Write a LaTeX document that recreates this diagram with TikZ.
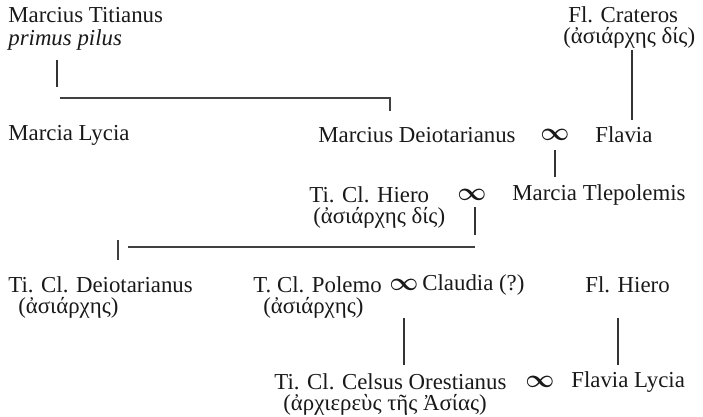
\documentclass[tikz,border=0pt]{standalone}
\usepackage{fontspec}
\setmainfont{Liberation Serif}
\usepackage{xcolor}
\usetikzlibrary{
  positioning,
  calc
}

\tikzset{
  person/.style={anchor=west, inner sep=0pt, text=black!90,
    font=\fontsize{13}{15}\selectfont},
  marriage/.style={inner sep=0pt, text=black!90,
    font=\fontsize{13.5}{15}\selectfont\boldmath},
  descent/.style={line width=1.6pt, draw=black!80},
  siblings/.style={line width=0.8pt, draw=black!75}
}

\begin{document}
\begin{tikzpicture}[x=0.02cm, y=-0.02cm]
      \useasboundingbox (0,0) rectangle (703,416);

      % First generation
      \node[person] (titianus) at (8,15) {Marcius Titianus};
      \node[person, font=\fontsize{13}{15}\selectfont\itshape] (pilus) at (8,40) {primus pilus};
      \node[person] (crateros) at (568,15) {Fl. Crateros};
      \node[person] (craterosT) at (563,38) {(ἀσιάρχης δίς)};

      % Second generation
      \node[person] (lycia) at (8,135) {Marcia Lycia};
      \node[person] (deiotarianus) at (318,135) {Marcius Deiotarianus};
      \node[marriage] (m1) at (555,135) {$\infty$};
      \node[person] (flavia) at (595,135) {Flavia};

      % Third generation
      \node[person] (hiero) at (309,195) {Ti. Cl. Hiero};
      \node[person] (hieroT) at (313,218) {(ἀσιάρχης δίς)};
      \node[marriage] (m2) at (472,195) {$\infty$};
      \node[person] (tlepolemis) at (512,195) {Marcia Tlepolemis};

      % Fourth generation
      \node[person] (deiotarianusII) at (8,285) {Ti. Cl. Deiotarianus};
      \node[person] (deiotarianusT) at (18,308) {(ἀσιάρχης)};
      \node[person] (polemo) at (253,285) {T. Cl. Polemo};
      \node[person] (polemoT) at (263,308) {(ἀσιάρχης)};
      \node[marriage] (m3) at (404,285) {$\infty$};
      \node[person] (claudia) at (422,285) {Claudia (?)};
      \node[person] (flhiero) at (585,285) {Fl. Hiero};

      % Fifth generation
      \node[person] (celsus) at (274,382) {Ti. Cl. Celsus Orestianus};
      \node[person] (celsusT) at (283,405) {(ἀρχιερεὺς τῆς Ἀσίας)};
      \node[marriage] (m4) at (540,382) {$\infty$};
      \node[person] (flycia) at (571,382) {Flavia Lycia};

      % Lines of descent
      \coordinate (titian) at (57,87);
      \draw[descent] (titian |- 0,60) -- (titian);
      \draw[siblings] (60,98) -| (390,111);
      \coordinate (crat) at (632,50);
      \draw[descent] (crat) -- (crat |- 0,120);
      \draw[descent] (m1 |- 0,150) -- (m1 |- 0,177);
      \coordinate (hier) at (475,207);
      \draw[descent] (hier) -- (hier |- 0,235);
      \draw[siblings] (hier |- 0,247) -- (128,247);
      \draw[siblings] (118,240) -- (118,260);
      \draw[descent] (m3 |- 0,318) -- (m3 |- 0,365);
      \coordinate (flh) at (618,318);
      \draw[descent] (flh) -- (flh |- 0,365);
\end{tikzpicture}
\end{document}
